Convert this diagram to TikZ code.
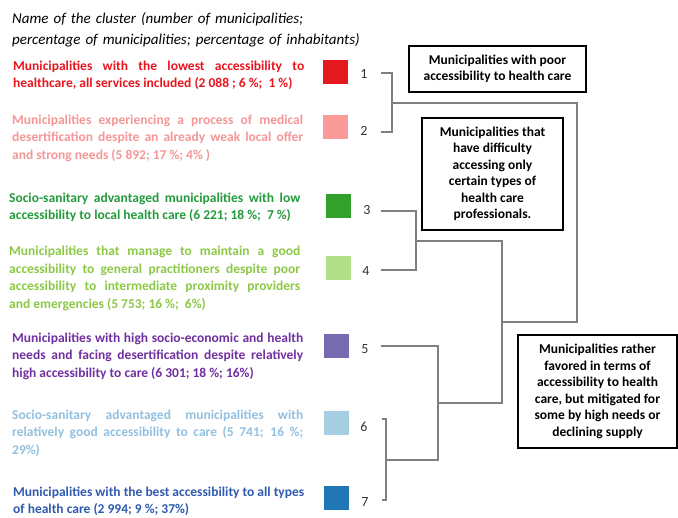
\documentclass[tikz,border=0pt]{standalone}
\usepackage{fontspec}
\setmainfont{Carlito}
\definecolor{cred}{RGB}{227,26,28}
\definecolor{cpink}{RGB}{251,154,153}
\definecolor{cgreen}{RGB}{51,160,44}
\definecolor{clgreen}{RGB}{178,223,138}
\definecolor{cpurple}{RGB}{117,107,177}
\definecolor{clblue}{RGB}{166,206,227}
\definecolor{cblue}{RGB}{31,120,180}
\definecolor{tred}{RGB}{232,20,30}
\definecolor{tpink}{RGB}{245,150,150}
\definecolor{tgreen}{RGB}{35,155,60}
\definecolor{tlgreen}{RGB}{140,200,70}
\definecolor{tpurple}{RGB}{112,48,160}
\definecolor{tlblue}{RGB}{145,192,225}
\definecolor{tblue}{RGB}{47,90,175}
\definecolor{numgray}{RGB}{50,50,50}
\definecolor{dendgray}{RGB}{128,128,128}
\begin{document}
\begin{tikzpicture}[x=1pt,y=-1pt,
	desc/.style={anchor=base west,inner sep=0pt,text width=291pt,align=justify,font=\bfseries\fontsize{13.5}{17.5}\selectfont},
	sq/.style={minimum width=25pt,minimum height=24pt,inner sep=0pt},
	num/.style={text=numgray,inner sep=0pt,font=\fontsize{14}{16}\selectfont},
	dend/.style={draw=dendgray,line width=2.8pt},
	grp/.style={draw,line width=1.8pt,align=center,inner sep=0pt,font=\bfseries\fontsize{13.5}{16.5}\selectfont}]
	\useasboundingbox (0,0) rectangle (678,518);
	% legend text
	\node[anchor=base west,inner sep=0pt,text width=360pt,align=left,font=\itshape\fontsize{15}{21}\selectfont] (head) at (12,24) {Name of the cluster (number of municipalities;\\percentage of municipalities; percentage of inhabitants)};
	\node[desc,text=tred] (t1) at (13,70.5) {Municipalities with the lowest accessibility to\linebreak healthcare, all services included (2~088 ; 6~\%; \ 1~\%)};
	\node[desc,text=tpink] (t2) at (12,124.5) {Municipalities experiencing a process of medical\linebreak desertification despite an already weak local offer\linebreak and strong needs (5~892; 17~\%; 4\%~)};
	\node[desc,text=tgreen] (t3) at (9,202.5) {Socio-sanitary advantaged municipalities with low\linebreak accessibility to local health care (6~221; 18~\%; \ 7~\%)};
	\node[desc,text=tlgreen] (t4) at (9,256) {Municipalities that manage to maintain a good\linebreak accessibility to general practitioners despite poor\linebreak accessibility to intermediate proximity providers\linebreak and emergencies (5~753; 16~\%; \ 6\%)};
	\node[desc,text=tpurple] (t5) at (12,342.5) {Municipalities with high socio-economic and health\linebreak needs and facing desertification despite relatively\linebreak high accessibility to care (6~301; 18~\%; 16\%)};
	\node[desc,text=tlblue] (t6) at (12,419.5) {Socio-sanitary advantaged municipalities with\linebreak relatively good accessibility to care (5~741; 16~\%;\linebreak 29\%)};
	\node[desc,text=tblue] (t7) at (13,496.5) {Municipalities with the best accessibility to all types\linebreak of health care (2~994; 9~\%; 37\%)};
	% colour squares and cluster numbers
	\node[sq,fill=cred] (s1) at (335.5,72) {};
	\node[sq,fill=cpink] (s2) at (335.5,127) {};
	\node[sq,fill=cgreen] (s3) at (338,206.5) {};
	\node[sq,fill=clgreen] (s4) at (338.5,268.5) {};
	\node[sq,fill=cpurple] (s5) at (336.5,346) {};
	\node[sq,fill=clblue] (s6) at (336.5,423) {};
	\node[sq,fill=cblue] (s7) at (336,498.5) {};
	\node[num] (n1) at (364,74) {1};
	\node[num] (n2) at (364,131) {2};
	\node[num] (n3) at (367,210) {3};
	\node[num] (n4) at (366,271) {4};
	\node[num] (n5) at (365,349) {5};
	\node[num] (n6) at (364,427) {6};
	\node[num] (n7) at (365,502) {7};
	% dendrogram
	\coordinate (l1) at (381,73);
	\coordinate (l2) at (381,132);
	\coordinate (l3) at (381,211);
	\coordinate (l4) at (381,270);
	\coordinate (l5) at (381,346);
	\coordinate (l6) at (382,419);
	\coordinate (l7) at (382,500);
	\coordinate (j12) at (392,103);
	\coordinate (j34) at (416,241);
	\coordinate (j67) at (386,460);
	\coordinate (j567) at (438,403);
	\coordinate (j37) at (502,322);
	\coordinate (root) at (577,212);
	\draw[dend] (l1) -| (j12) |- (l2);
	\draw[dend] (l3) -| (j34) |- (l4);
	\draw[dend] (l6) -| (j67) |- (l7);
	\draw[dend] (l5) -| (j567) |- (j67);
	\draw[dend] (j34) -| (j37) |- (j567);
	\draw[dend] (j12) -| (root) |- (j37);
	% group boxes
	\node[grp,minimum width=177pt,minimum height=46pt] (g1) at (497.5,69) {Municipalities with poor\\accessibility to health care};
	\node[grp,minimum width=141pt,minimum height=112pt] (g2) at (492.5,174) {Municipalities that\\have difficulty\\accessing only\\certain types of\\health care\\professionals.};
	\node[grp,minimum width=159pt,minimum height=113pt] (g3) at (597.5,391.5) {Municipalities rather\\favored in terms of\\accessibility to health\\care, but mitigated for\\some by high needs or\\declining supply};
\end{tikzpicture}
\end{document}
